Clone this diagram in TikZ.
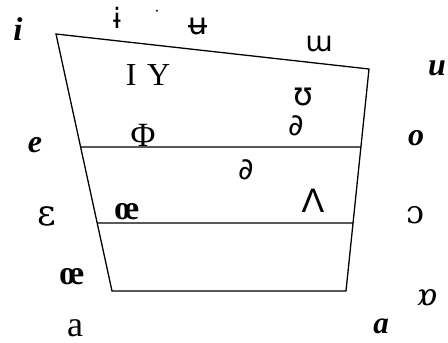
\documentclass[tikz,border=0pt]{standalone}
\usepackage{fontspec}
\setmainfont{Liberation Serif}
\newfontfamily\ipa{DejaVu Serif}
\newfontfamily\ipas{DejaVu Sans}
\newfontfamily\lsans{Liberation Sans}
\usetikzlibrary{calc}
\begin{document}
\begin{tikzpicture}[x=1pt,y=-1pt,
  edge/.style={line width=1.3pt,black},
  lab/.style={inner sep=0pt,font=\fontsize{34}{34}\selectfont},
  bi/.style={inner sep=0pt,font=\fontsize{32}{32}\selectfont\bfseries\itshape},
  thin/.style={inner sep=0pt,font=\fontsize{30}{30}\selectfont\ipas}]
\useasboundingbox (0,0) rectangle (448,343);
\coordinate (tl) at (56,34);
\coordinate (tr) at (369,69);
\coordinate (br) at (346,291);
\coordinate (bl) at (112,291);
\draw[edge] (tl) -- (tr) -- (br) -- (bl) -- cycle;
\coordinate (ml1) at ($(tl)!0.4397!(bl)$);
\coordinate (mr1) at ($(tr)!0.3514!(br)$);
\coordinate (ml2) at ($(tl)!0.7354!(bl)$);
\coordinate (mr2) at ($(tr)!0.6937!(br)$);
\draw[edge] (ml1) -- (mr1);
\draw[edge] (ml2) -- (mr2);
% labels
\node[bi,font=\fontsize{33}{33}\selectfont\bfseries\itshape] (li) at (18,29) {i};
\node[thin,font=\fontsize{28}{28}\selectfont\ipas] (lbi) at (117,18) {ɨ};
\node[inner sep=0pt,font=\fontsize{16}{16}\selectfont] (ldot) at (157,13) {·};
\node[thin,font=\fontsize{30}{30}\selectfont\ipas] (lbu) at (198,27) {ʉ};
\node[thin,font=\fontsize{28}{28}\selectfont\ipas] (lmu) at (319,44) {ɯ};
\node[bi] (lu) at (437,68) {u};
\node[lab,font=\fontsize{32}{32}\selectfont] (lIY) at (148,75) {I\,\,Y};
\node[thin,font=\fontsize{32}{32}\selectfont\ipas] (lU) at (303,97) {ʊ};
\node[bi] (le) at (35,145) {e};
\node[lab] (lphi) at (143,135) {Φ};
\node[thin] (lre) at (296,126) {∂};
\node[bi] (lo) at (416,138) {o};
\node[thin] (lschwa) at (246,170) {∂};
\node[lab,font=\fontsize{36}{36}\selectfont\ipa] (leps) at (47,216) {ε};
\node[lab,font=\fontsize{34}{34}\selectfont\bfseries] (loe) at (127,212) {œ};
\node[lab,font=\fontsize{34}{34}\selectfont\lsans] (lv) at (313,201) {Λ};
\node[lab,font=\fontsize{32}{32}\selectfont\ipa] (lo2) at (415,215) {ɔ};
\node[lab,font=\fontsize{34}{34}\selectfont\bfseries] (loe2) at (72,277) {œ};
\node[lab,font=\fontsize{30}{30}\selectfont\ipa\itshape] (lob) at (427,297) {ɒ};
\node[lab,font=\fontsize{36}{36}\selectfont] (la) at (75,328) {a};
\node[bi,font=\fontsize{31}{31}\selectfont\bfseries\itshape] (lal) at (381,326) {ɑ};
\end{tikzpicture}
\end{document}
